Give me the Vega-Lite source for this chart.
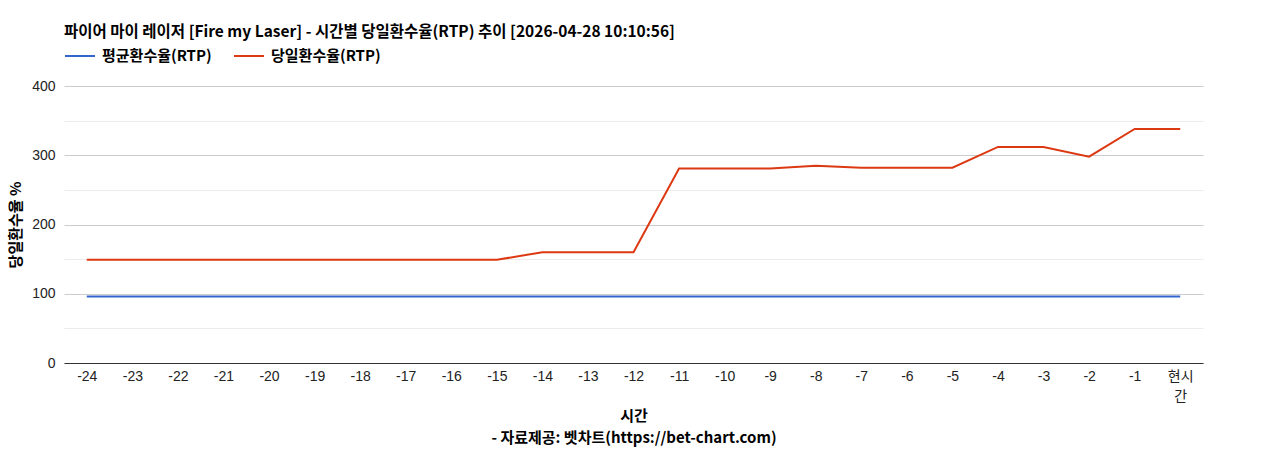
{
  "$schema": "https://vega.github.io/schema/vega-lite/v6.json",
  "width": 1139,
  "height": 277,
  "autosize": {"type": "none"},
  "padding": {"left": 64, "top": 86, "right": 65, "bottom": 87},
  "background": "white",
  "config": {
    "font": "Liberation Sans, Noto Sans CJK KR",
    "view": {"stroke": null}
  },
  "title": {
    "text": "파이어 마이 레이저 [Fire my Laser] - 시간별 당일환수율(RTP) 추이 [2026-04-28 10:10:56]",
    "anchor": "start",
    "frame": "group",
    "fontSize": 15.5,
    "fontWeight": "bold",
    "color": "#000000",
    "font": "Noto Sans CJK KR",
    "offset": 0
  },
  "data": {
    "values": [
      {"t": "-24", "s": "평균환수율(RTP)", "v": 96},
      {"t": "-23", "s": "평균환수율(RTP)", "v": 96},
      {"t": "-22", "s": "평균환수율(RTP)", "v": 96},
      {"t": "-21", "s": "평균환수율(RTP)", "v": 96},
      {"t": "-20", "s": "평균환수율(RTP)", "v": 96},
      {"t": "-19", "s": "평균환수율(RTP)", "v": 96},
      {"t": "-18", "s": "평균환수율(RTP)", "v": 96},
      {"t": "-17", "s": "평균환수율(RTP)", "v": 96},
      {"t": "-16", "s": "평균환수율(RTP)", "v": 96},
      {"t": "-15", "s": "평균환수율(RTP)", "v": 96},
      {"t": "-14", "s": "평균환수율(RTP)", "v": 96},
      {"t": "-13", "s": "평균환수율(RTP)", "v": 96},
      {"t": "-12", "s": "평균환수율(RTP)", "v": 96},
      {"t": "-11", "s": "평균환수율(RTP)", "v": 96},
      {"t": "-10", "s": "평균환수율(RTP)", "v": 96},
      {"t": "-9", "s": "평균환수율(RTP)", "v": 96},
      {"t": "-8", "s": "평균환수율(RTP)", "v": 96},
      {"t": "-7", "s": "평균환수율(RTP)", "v": 96},
      {"t": "-6", "s": "평균환수율(RTP)", "v": 96},
      {"t": "-5", "s": "평균환수율(RTP)", "v": 96},
      {"t": "-4", "s": "평균환수율(RTP)", "v": 96},
      {"t": "-3", "s": "평균환수율(RTP)", "v": 96},
      {"t": "-2", "s": "평균환수율(RTP)", "v": 96},
      {"t": "-1", "s": "평균환수율(RTP)", "v": 96},
      {"t": "현시간", "s": "평균환수율(RTP)", "v": 96},
      {"t": "-24", "s": "당일환수율(RTP)", "v": 149},
      {"t": "-23", "s": "당일환수율(RTP)", "v": 149},
      {"t": "-22", "s": "당일환수율(RTP)", "v": 149},
      {"t": "-21", "s": "당일환수율(RTP)", "v": 149},
      {"t": "-20", "s": "당일환수율(RTP)", "v": 149},
      {"t": "-19", "s": "당일환수율(RTP)", "v": 149},
      {"t": "-18", "s": "당일환수율(RTP)", "v": 149},
      {"t": "-17", "s": "당일환수율(RTP)", "v": 149},
      {"t": "-16", "s": "당일환수율(RTP)", "v": 149},
      {"t": "-15", "s": "당일환수율(RTP)", "v": 149},
      {"t": "-14", "s": "당일환수율(RTP)", "v": 160},
      {"t": "-13", "s": "당일환수율(RTP)", "v": 160},
      {"t": "-12", "s": "당일환수율(RTP)", "v": 160},
      {"t": "-11", "s": "당일환수율(RTP)", "v": 281},
      {"t": "-10", "s": "당일환수율(RTP)", "v": 281},
      {"t": "-9", "s": "당일환수율(RTP)", "v": 281},
      {"t": "-8", "s": "당일환수율(RTP)", "v": 285},
      {"t": "-7", "s": "당일환수율(RTP)", "v": 282},
      {"t": "-6", "s": "당일환수율(RTP)", "v": 282},
      {"t": "-5", "s": "당일환수율(RTP)", "v": 282},
      {"t": "-4", "s": "당일환수율(RTP)", "v": 312},
      {"t": "-3", "s": "당일환수율(RTP)", "v": 312},
      {"t": "-2", "s": "당일환수율(RTP)", "v": 298},
      {"t": "-1", "s": "당일환수율(RTP)", "v": 338},
      {"t": "현시간", "s": "당일환수율(RTP)", "v": 338}
    ]
  },
  "mark": {"type": "line", "strokeWidth": 2},
  "encoding": {
    "x": {
      "field": "t",
      "type": "ordinal",
      "sort": ["-24","-23","-22","-21","-20","-19","-18","-17","-16","-15","-14","-13","-12","-11","-10","-9","-8","-7","-6","-5","-4","-3","-2","-1","현시간"],
      "scale": {"type": "point", "padding": 0.5},
      "axis": {
        "title": ["시간", "- 자료제공: 벳차트(https://bet-chart.com)"],
        "titleFont": "Noto Sans CJK KR",
        "titleFontSize": 15,
        "titleFontWeight": "bold",
        "titleColor": "#000000",
        "titleLineHeight": 22,
        "titlePadding": 5,
        "labelAngle": 0,
        "labelFontSize": 14,
        "labelColor": "#222222",
        "labelPadding": 6,
        "labelExpr": "datum.value === '현시간' ? ['현시', '간'] : datum.label",
        "labelLineHeight": 20,
        "ticks": false,
        "grid": false,
        "domainColor": "#333333",
        "domainWidth": 1
      }
    },
    "y": {
      "field": "v",
      "type": "quantitative",
      "scale": {"domain": [0, 400], "nice": false},
      "axis": {
        "title": "당일환수율 %",
        "titleFont": "Noto Sans CJK KR",
        "titleFontSize": 15,
        "titleFontWeight": "bold",
        "titleColor": "#000000",
        "titlePadding": 8,
        "values": [0, 50, 100, 150, 200, 250, 300, 350, 400],
        "labelExpr": "datum.value % 100 === 0 ? datum.label : ''",
        "labelFontSize": 14,
        "labelColor": "#222222",
        "labelPadding": 9,
        "ticks": false,
        "domain": false,
        "gridColor": {"condition": {"test": "datum.value % 100 === 0", "value": "#cccccc"}, "value": "#ebebeb"}
      }
    },
    "color": {
      "field": "s",
      "type": "nominal",
      "scale": {"domain": ["평균환수율(RTP)", "당일환수율(RTP)"], "range": ["#3366cc", "#dc3912"]},
      "legend": {
        "title": null,
        "orient": "none",
        "legendX": 0,
        "legendY": -46,
        "direction": "horizontal",
        "symbolType": "stroke",
        "symbolSize": 900,
        "symbolStrokeWidth": 2,
        "labelFont": "Noto Sans CJK KR",
        "labelFontSize": 15,
        "labelFontWeight": "bold",
        "labelColor": "#000000",
        "columnPadding": 18,
        "labelOffset": 6
      }
    }
  }
}
